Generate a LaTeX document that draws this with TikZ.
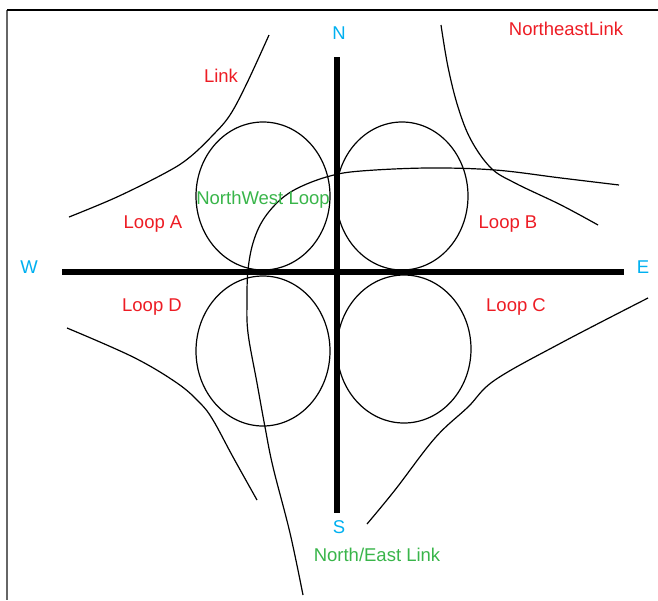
\documentclass[tikz,border=0pt]{standalone}
\usepackage{fontspec}
\setmainfont{Liberation Sans}
\definecolor{dirblue}{RGB}{0,176,240}
\definecolor{loopred}{RGB}{237,28,36}
\definecolor{linkgreen}{RGB}{57,181,74}
\tikzset{
  road/.style={line width=6pt, black},
  ramp/.style={line width=1.2pt, black},
  loopline/.style={line width=1.2pt, black},
  lbl/.style={font=\fontsize{18.5}{20}\selectfont, inner sep=0pt, anchor=base},
  dirlbl/.style={lbl, text=dirblue},
  redlbl/.style={lbl, text=loopred},
  greenlbl/.style={lbl, text=linkgreen},
}
\begin{document}
\begin{tikzpicture}[x=1pt,y=-1pt]
\useasboundingbox (0,0) rectangle (658,600);
% frame
\draw[line width=1.5pt, gray!80!black] (7,10) -- (7,600);
\draw[line width=1.2pt, black] (7,10) -- (658,10);
% roads
\draw[road] (337,57) -- (337,513);
\draw[road] (62,272) -- (624,272);
% loops
\draw[loopline] (263,196) ellipse [x radius=67pt, y radius=74pt];
\draw[loopline] (402,196) ellipse [x radius=66pt, y radius=74pt];
\draw[loopline] (263,351) ellipse [x radius=67pt, y radius=75pt];
\draw[loopline] (404,349) ellipse [x radius=67pt, y radius=74pt];
% ramps
\draw[ramp] plot[smooth, tension=0.6] coordinates {(69,217) (117,197) (167,172) (190,157) (213,135) (230,115) (247,83) (269,35)};
\draw[ramp] plot[smooth, tension=0.6] coordinates {(441,25) (448,67) (458,107) (471,140) (491,168) (515,183) (561,205) (598,225)};
\draw[ramp] plot[smooth, tension=0.6] coordinates {(67,328) (133,357) (177,383) (200,403) (213,420) (233,457) (257,500)};
\draw[ramp] plot[smooth, tension=0.6] coordinates {(367,524) (395,490) (435,438) (468,407) (495,380) (561,343) (648,298)};
\draw[ramp] plot[smooth, tension=0.6] coordinates {(303,595) (290,533) (273,467) (265,427) (257,383) (248,333) (247,300) (248,270) (253,243) (263,220) (280,200) (300,187) (330,176) (361,171) (428,168) (495,170) (561,178) (619,185)};
% labels
\node[dirlbl] (n) at (339,39) {N};
\node[dirlbl] (w) at (29,273) {W};
\node[dirlbl] (e) at (643,273) {E};
\node[dirlbl] (s) at (339,533) {S};
\node[redlbl] (link) at (221,82) {Link};
\node[redlbl] (nelink) at (566,35) {NortheastLink};
\node[redlbl] (la) at (153,228) {Loop A};
\node[redlbl] (lb) at (508,228) {Loop B};
\node[redlbl] (ld) at (152,311) {Loop D};
\node[redlbl] (lc) at (516,311) {Loop C};
\node[greenlbl] (nwl) at (263,204) {NorthWest Loop};
\node[greenlbl] (nel) at (377,561) {North/East Link};
\end{tikzpicture}
\end{document}
